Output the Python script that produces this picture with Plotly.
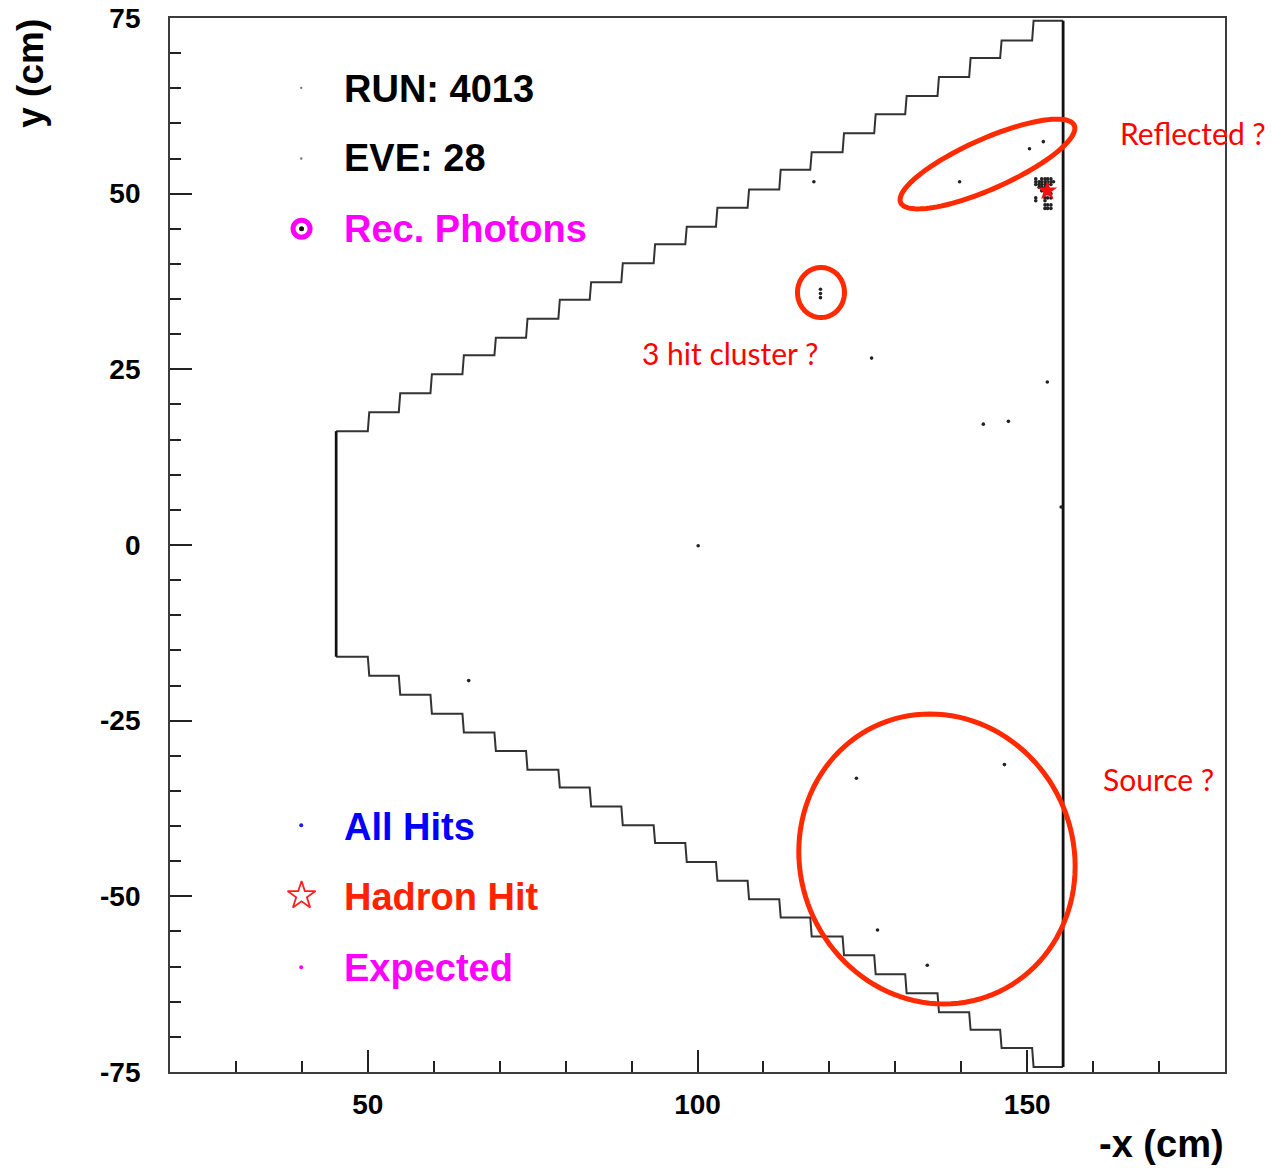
import numpy as np
import plotly.graph_objects as go

# Detector outline (cm)
stair_edges = [45.2, 50.0, 54.7, 59.5, 64.35, 69.2, 74.0, 78.9, 83.65, 88.45, 93.35, 98.15,
               102.8, 107.6, 112.4, 117.1, 122.0, 126.8, 131.5, 136.4, 141.2, 145.9, 150.75, 155.45]
upper_levels = [16.2, 18.9, 21.6, 24.3, 27.0, 29.5, 32.2, 34.9, 37.4, 40.1, 42.8, 45.3,
                48.0, 50.6, 53.4, 55.9, 58.6, 61.3, 63.9, 66.6, 69.3, 71.8, 74.6]
lower_levels = [-15.9, -18.6, -21.3, -24.0, -26.7, -29.3, -32.0, -34.5, -37.2, -39.9, -42.4, -45.1,
                -47.8, -50.4, -53.0, -55.7, -58.4, -61.1, -63.8, -66.5, -69.0, -71.6, -74.3]

# Isolated hits
hit_x = [117.65, 118.65, 118.65, 118.65, 126.4, 143.35, 147.15, 153.05, 155.15, 100.1, 65.3,
         124.1, 146.55, 127.3, 134.85, 139.75, 150.35, 152.45]
hit_y = [51.7, 36.4, 35.8, 35.2, 26.6, 17.2, 17.6, 23.2, 5.4, -0.1, -19.3,
         -33.2, -31.25, -54.8, -59.8, 51.7, 56.4, 57.4]

# Hit cluster around the hadron hit
cluster_x = [151.3, 152.2, 152.7, 153.1, 153.6,
             151.3, 151.8, 152.2, 152.7, 153.1, 153.6, 154.0,
             151.3, 151.8, 152.2, 152.7, 153.1, 153.6,
             151.8, 152.2, 152.7, 153.1,
             152.2, 152.7,
             152.7, 153.1, 153.6,
             151.3, 152.7, 153.1, 153.6,
             151.3, 152.7,
             152.7, 153.1, 153.6,
             152.7, 153.1, 153.6]
cluster_y = [52.1, 52.1, 52.1, 52.1, 52.1,
             51.7, 51.7, 51.7, 51.7, 51.7, 51.7, 51.7,
             51.3, 51.3, 51.3, 51.3, 51.3, 51.3,
             50.9, 50.9, 50.9, 50.9,
             50.4, 50.4,
             50.0, 50.0, 50.0,
             49.4, 49.4, 49.4, 49.4,
             49.0, 49.0,
             48.4, 48.4, 48.4,
             47.9, 47.9, 47.9]
hadron_x = [153.05]
hadron_y = [50.4]

x_major = [50, 100, 150]
x_minor = [30, 40, 60, 70, 80, 90, 110, 120, 130, 140, 160, 170, 180]
y_major = [-75, -50, -25, 0, 25, 50, 75]
y_minor = [-70, -65, -60, -55, -45, -40, -35, -30, -20, -15, -10, -5,
           5, 10, 15, 20, 30, 35, 40, 45, 55, 60, 65, 70]

PXX, PXY = 6.594, 7.027
X0, XR = 20, 180
Y0, YR = -75, 75
FRAME = "#3c3c3c"
BOLD = "Liberation Sans"
RED = "#ff2a00"


def stair(levels):
    xs, ys = [], []
    for i, lev in enumerate(levels):
        xs += [stair_edges[i] + (0.22 if i else 0), stair_edges[i + 1]]
        ys += [lev, lev]
    return xs, ys


fig = go.Figure()
for lev in (upper_levels, lower_levels):
    sx, sy = stair(lev)
    fig.add_trace(go.Scatter(x=sx, y=sy, mode="lines", line=dict(color="#333333", width=2), hoverinfo="skip"))
fig.add_trace(go.Scatter(x=[stair_edges[0]] * 2, y=[upper_levels[0], lower_levels[0]], mode="lines",
                         line=dict(color="#111", width=2.7), hoverinfo="skip"))
fig.add_trace(go.Scatter(x=[stair_edges[-1]] * 2, y=[upper_levels[-1], lower_levels[-1]], mode="lines",
                         line=dict(color="#111", width=2.8), hoverinfo="skip"))
fig.add_trace(go.Scatter(x=hit_x, y=hit_y, mode="markers", marker=dict(color="#222", size=3.6)))
fig.add_trace(go.Scatter(x=cluster_x, y=cluster_y, mode="markers", marker=dict(color="#222", size=3.6)))
fig.add_trace(go.Scatter(x=hadron_x, y=hadron_y, mode="markers",
                         marker=dict(color="#f01010", symbol="star", size=15)))

# Key markers
fig.add_trace(go.Scatter(x=[39.9, 39.9], y=[65.06, 55], mode="markers", marker=dict(color="#777", size=2.4)))
fig.add_trace(go.Scatter(x=[39.95], y=[45], mode="markers",
                         marker=dict(color="white", size=17, line=dict(color="#ff00ff", width=5))))
fig.add_trace(go.Scatter(x=[39.95], y=[45], mode="markers", marker=dict(color="#111", size=5)))
fig.add_trace(go.Scatter(x=[39.9], y=[-39.9], mode="markers", marker=dict(color="#1a1af0", size=4)))
fig.add_trace(go.Scatter(x=[39.95], y=[-49.9], mode="markers",
                         marker=dict(symbol="star-open", size=21, color="#ff2020", line=dict(color="#ff2020", width=1.8))))
fig.add_trace(go.Scatter(x=[39.9], y=[-60.1], mode="markers", marker=dict(color="#ff00ff", size=4)))


def key(x, y, text, color):
    fig.add_annotation(x=x, y=y, text=f"<b>{text}</b>", showarrow=False, xanchor="left", yanchor="middle",
                       font=dict(family=BOLD, size=38, color=color), align="left")


key(46.05, 64.94, "RUN: 4013", "#000")
key(46.05, 55.14, "EVE: 28", "#000")
key(46.05, 45.04, "Rec. Photons", "#ff00ff")
key(46.05, -40.1, "All Hits", "#0000ff")
key(46.05, -50.14, "Hadron Hit", "#ff2200")
key(46.05, -60.24, "Expected", "#ff00ff")


def note(x, y, text):
    fig.add_annotation(x=x, y=y, text=text, showarrow=False, xanchor="left", yanchor="middle",
                       font=dict(family="Lato", size=30, color="#ff0000"))


note(163.8, 58.68, "Reflected ?")
note(91.3, 27.38, "3 hit cluster ?")
note(161.2, -33.26, "Source ?")

fig.add_annotation(xref="paper", yref="paper", x=1.001, y=-0.068, text="<b>-x (cm)</b>", showarrow=False,
                   xanchor="right", yanchor="middle", font=dict(family=BOLD, size=38, color="#000"))
fig.add_annotation(xref="paper", yref="paper", x=-0.1324, y=1.001, text="<b>y (cm)</b>", showarrow=False,
                   textangle=-90, xanchor="center", yanchor="top", font=dict(family=BOLD, size=37, color="#000"))


def ellipse_path(cx, cy, ax, bx, by):
    t = np.linspace(0, 2 * np.pi, 121)
    px = cx + ax * np.cos(t) + bx * np.sin(t)
    py = cy + by * np.sin(t)
    return px, py


def svg(px, py):
    xs = X0 + (np.array(px) - 170) / PXX
    ys = (545 - np.array(py)) / PXY
    return "M " + " L ".join(f"{a:.3f},{b:.3f}" for a, b in zip(xs, ys)) + " Z"


# Hand-drawn call-out ellipses, in picture pixels converted to data units
big_x, big_y = ellipse_path(937, 859, 138, 7, 145)
fig.add_shape(type="path", path=svg(big_x, big_y), line=dict(color=RED, width=5), layer="above")
t = np.linspace(0, 2 * np.pi, 121)
th = np.radians(24)
rx = 987.5 + 95 * np.cos(t) * np.cos(th) + 25 * np.sin(t) * np.sin(th)
ry = 164 - 95 * np.cos(t) * np.sin(th) + 25 * np.sin(t) * np.cos(th)
fig.add_shape(type="path", path=svg(rx, ry), line=dict(color=RED, width=5), layer="above")
sx, sy = ellipse_path(821, 292.5, 23.5, 0, 25)
fig.add_shape(type="path", path=svg(sx, sy), line=dict(color=RED, width=5), layer="above")

axis_common = dict(showgrid=False, zeroline=False, showline=True, mirror=True, linecolor=FRAME, linewidth=1.8,
                   ticks="inside", tickcolor="#222", tickwidth=1.5, ticklen=22, automargin=False,
                   tickfont=dict(family=BOLD, size=28, color="#000", weight="bold"))
fig.update_xaxes(range=[X0, XR], tickmode="array", tickvals=x_major, ticktext=[str(v) for v in x_major],
                 minor=dict(tickmode="array", tickvals=x_minor, ticks="inside", ticklen=11, tickcolor="#222", tickwidth=1.5),
                 ticklabelstandoff=6, **axis_common)
fig.update_yaxes(range=[Y0, YR], tickmode="array", tickvals=y_major, ticktext=[str(v) for v in y_major],
                 minor=dict(tickmode="array", tickvals=y_minor, ticks="inside", ticklen=11, tickcolor="#222", tickwidth=1.5),
                 ticklabelstandoff=22, **axis_common)
fig.update_layout(width=1272, height=1168, autosize=False, showlegend=False,
                  margin=dict(l=170, r=47, t=18, b=96, pad=0),
                  paper_bgcolor="white", plot_bgcolor="white")

fig.write_html("out.html", config={"displayModeBar": False},
               post_script="document.body.style.margin='0';document.body.style.overflow='hidden';")
